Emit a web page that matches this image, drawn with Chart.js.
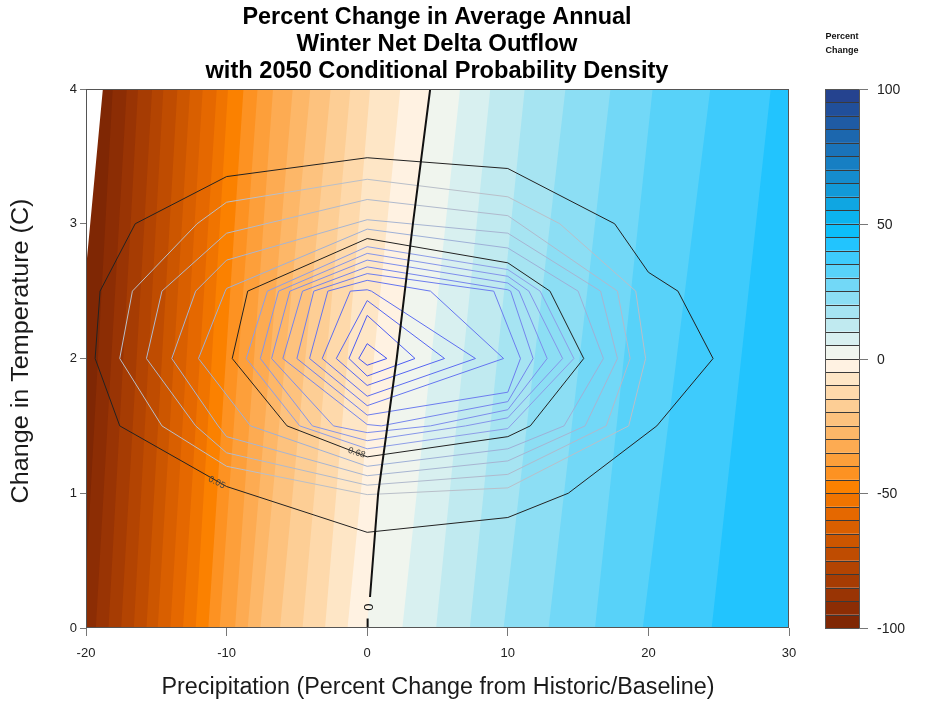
<!DOCTYPE html>
<html>
<head>
<meta charset="utf-8">
<script src="https://cdn.jsdelivr.net/npm/chart.js@4.4.1/dist/chart.umd.min.js"></script>
<style>
  html, body { margin: 0; padding: 0; background: #ffffff; }
  #wrap { width: 929px; height: 706px; position: relative; }
</style>
</head>
<body>
<div id="wrap"><canvas id="c" width="929" height="706"></canvas></div>
<script>
// ---- axes ----
const xTickValues = [-20, -10, 0, 10, 20, 30];
const yTickValues = [0, 1, 2, 3, 4];
const keyTickValues = [100, 50, 0, -50, -100];

// ---- percent change surface: each isoline is given by where it crosses T = 0 and T = 4 ----
const cutLevels = [-100, -95, -90, -85, -80, -75, -70, -65, -60, -55, -50, -45, -40, -35, -30, -25, -20, -15, -10, -5, 0, 5, 10, 15, 20, 25, 30, 35, 40];
const cutPAtT0  = [-22.4, -20.2, -19.3, -18.4, -17.5, -16.6, -15.7, -14.9, -14.0, -13.1, -12.2, -11.3, -10.5, -9.4, -8.5, -7.6, -6.2, -4.6, -3.0, -1.4, 0, 2.5, 4.9, 7.3, 9.7, 12.9, 16.2, 19.6, 24.5];
const cutPAtT4  = [-18.8, -18.1, -17.1, -16.3, -15.3, -14.5, -13.5, -12.6, -11.7, -10.7, -9.9, -8.8, -7.8, -6.7, -5.3, -4.05, -2.6, -1.2, 0.2, 2.35, 4.48, 6.6, 8.75, 11.2, 14.1, 17.3, 20.3, 24.4, 28.7];

// zero isoline (drawn heavy, with a break for its label)
const zeroLineP = [0, 0.03, null, 0.2, 0.78, 2.1, 3.25, 4.48];
const zeroLineT = [0, 0.07, null, 0.23, 1, 2, 3, 4];

// ---- colour key: band lower edges and fills ----
const keyLevels = [-100, -95, -90, -85, -80, -75, -70, -65, -60, -55, -50, -45, -40, -35, -30, -25, -20, -15, -10, -5,
                   0, 5, 10, 15, 20, 25, 30, 35, 40, 45, 50, 55, 60, 65, 70, 75, 80, 85, 90, 95];
const keyColors = ['#7f2704', '#8c2d04', '#993404', '#a63c03', '#b34402', '#bf4c01', '#cc5600', '#d95f00', '#e56800', '#f07400',
                   '#fb8100', '#fd9222', '#fd9f3a', '#fdab52', '#fdb768', '#fdc27e', '#fdce95', '#fed9ab', '#fee6c6', '#fff2e2',
                   '#f0f5ee', '#d8f0f0', '#c0eaf0', '#a6e4f2', '#8cdef4', '#72d8f7', '#58d2f9', '#3ecbfc', '#22c4fe', '#0dbef9',
                   '#0cb3ee', '#0fa6e2', '#1299d7', '#158ccd', '#177fc3', '#1a73b9', '#1c67ae', '#1f5ba4', '#214f9a', '#25438f'];

// ---- 2050 conditional probability density contours, outermost first: [precip %, temp C] ----
const densityOuter = [[-19.35, 2.0], [-19.0, 2.5], [-16.5, 3.0], [-10, 3.35], [0, 3.49], [10, 3.41], [17.6, 3.0], [20, 2.64], [22.1, 2.5], [24.6, 2.0],
                      [20.6, 1.5], [14.3, 1.0], [10, 0.82], [0, 0.71], [-10, 1.05], [-17.6, 1.5], [-19.35, 2.0]];
const densityG1 = [[-17.6, 2.0], [-16.7, 2.5], [-12.1, 3.0], [-10, 3.16], [0, 3.33], [10, 3.2], [13.7, 3.0], [19.1, 2.5], [19.8, 2.0], [18.6, 1.5],
                   [10, 1.04], [0, 0.99], [-10, 1.2], [-14.6, 1.5], [-17.6, 2.0]];
const densityG2 = [[-15.7, 2.0], [-14.6, 2.5], [-10, 2.93], [0, 3.18], [10, 3.06], [17.8, 2.5], [18.7, 2.0], [17.0, 1.5],
                   [10, 1.14], [0, 1.06], [-10, 1.3], [-12.2, 1.5], [-15.7, 2.0]];
const densityG3 = [[-13.9, 2.0], [-12.2, 2.5], [-10, 2.73], [0, 3.03], [10, 2.93], [16.6, 2.5], [17.8, 2.0], [15.5, 1.5],
                   [10, 1.24], [0, 1.13], [-10, 1.42], [-10.6, 1.5], [-13.9, 2.0]];
const densityG4 = [[-12.0, 2.0], [-10.1, 2.5], [-10, 2.52], [0, 2.96], [10, 2.82], [15.0, 2.5], [16.8, 2.0], [14.0, 1.5],
                   [10, 1.33], [0, 1.2], [-8.3, 1.5], [-12.0, 2.0]];
const densityInner = [[-9.6, 2.0], [-8.5, 2.5], [0, 2.89], [10, 2.71], [13.0, 2.5], [15.4, 2.0], [11.6, 1.5], [10, 1.42], [0, 1.27], [-5.7, 1.5], [-9.6, 2.0]];
const densityB1 = [[-8.6, 2.0], [-7.1, 2.5], [0, 2.83], [10, 2.66], [12.3, 2.5], [14.7, 2.0], [10, 1.48], [0, 1.33], [-4.8, 1.5], [-8.6, 2.0]];
const densityB2 = [[-7.6, 2.0], [-6.3, 2.5], [0, 2.78], [10, 2.61], [11.5, 2.5], [13.9, 2.0], [10, 1.56], [7.0, 1.5], [0, 1.39], [-3.9, 1.5], [-7.6, 2.0]];
const densityB3 = [[-6.8, 2.0], [-5.5, 2.5], [0, 2.73], [10, 2.56], [10.8, 2.5], [12.8, 2.0], [10, 1.62], [4.5, 1.5], [0, 1.45], [-2.4, 1.5], [-6.8, 2.0]];
const densityB4 = [[-6.0, 2.0], [-4.6, 2.5], [0, 2.68], [10, 2.51], [10.2, 2.5], [11.8, 2.0], [10, 1.68], [1.0, 1.5], [0, 1.51], [-6.0, 2.0]];
const densityB5 = [[-5.0, 2.0], [-3.8, 2.5], [0, 2.63], [9.0, 2.5], [10.9, 2.0], [10, 1.75], [0, 1.58], [-5.0, 2.0]];
const densityB6 = [[-4.1, 2.0], [-2.8, 2.5], [0, 2.58], [4.5, 2.5], [9.7, 2.0], [0, 1.65], [-4.1, 2.0]];
const densityB7 = [[-3.2, 2.0], [-1.2, 2.5], [0, 2.51], [0.3, 2.5], [7.7, 2.0], [0, 1.72], [-3.2, 2.0]];
const densityB8 = [[-2.2, 2.0], [0, 2.43], [5.5, 2.0], [0, 1.80], [-2.2, 2.0]];
const densityB9 = [[-1.3, 2.0], [0, 2.32], [3.4, 2.0], [0, 1.87], [-1.3, 2.0]];
const densityB10 = [[-0.6, 2.0], [0, 2.11], [1.4, 2.0], [0, 1.95], [-0.6, 2.0]];

const densityLines = [densityOuter, densityG1, densityG2, densityG3, densityG4, densityInner,
                      densityB1, densityB2, densityB3, densityB4, densityB5, densityB6, densityB7, densityB8, densityB9, densityB10];
const densityColors = ['#222222', '#b9bfc9', '#b0bacd', '#a7b5d2', '#9eb0d7', '#222222',
                       '#8d9de8', '#8595ea', '#7d8dec', '#7585ed', '#6d7def', '#6575f0', '#5d6df1', '#5565f2', '#4d5df3', '#4555f4'];

// labelled density levels: text, position, angle (deg)
const densityLabels = [
  { text: '0.05', p: -10.7, t: 1.08, angle: 27 },
  { text: '0.68', p: -0.75, t: 1.30, angle: 18 }
];

// ---------------------------------------------------------------
const datasets = [];
const xMax = 30, yMax = 4, yMin = 0;

cutLevels.forEach((lev, i) => {
  let edge;
  if (lev === 0) {
    edge = zeroLineP.map((p, k) => ({ x: p, y: zeroLineT[k] })).filter(pt => pt.x !== null);
  } else {
    edge = [{ x: cutPAtT0[i], y: yMin }, { x: cutPAtT4[i], y: yMax }];
  }
  const poly = edge.concat([{ x: xMax + 2, y: yMax + 0.2 }, { x: xMax + 2, y: yMin - 0.2 }]);
  const k = keyLevels.indexOf(lev);
  datasets.push({
    data: poly,
    backgroundColor: keyColors[k],
    borderWidth: 0,
    borderColor: 'rgba(0,0,0,0)',
    pointRadius: 0,
    fill: 'shape',
    tension: 0,
    order: 1000 - i
  });
});

densityLines.forEach((line, i) => {
  datasets.push({
    data: line.map(([p, t]) => ({ x: p, y: t })),
    borderColor: densityColors[i],
    borderWidth: 1,
    pointRadius: 0,
    fill: false,
    tension: 0,
    order: 50 - i
  });
});

datasets.push({
  data: zeroLineP.map((p, k) => ({ x: p === null ? 0.1 : p, y: zeroLineT[k] })),
  borderColor: '#111111',
  borderWidth: 2,
  pointRadius: 0,
  fill: false,
  tension: 0,
  spanGaps: false,
  order: 0
});

// text squeezed or stretched horizontally to a set width
function fitText(ctx, text, x, y, width, angle) {
  const w = ctx.measureText(text).width;
  ctx.save();
  ctx.translate(x, y);
  if (angle) ctx.rotate(angle);
  ctx.scale(width / w, 1);
  ctx.fillText(text, 0, 0);
  ctx.restore();
}

const overlay = {
  id: 'overlay',
  beforeDraw(chart) {
    const ctx = chart.ctx;
    ctx.save();
    ctx.fillStyle = '#ffffff';
    ctx.fillRect(0, 0, chart.width, chart.height);
    ctx.restore();
  },
  afterDatasetsDraw(chart) {
    const { ctx, chartArea: a, scales } = chart;
    const xs = scales.x, ys = scales.y, ks = scales.key;
    ctx.save();
    // plot frame
    ctx.strokeStyle = '#555555';
    ctx.lineWidth = 1;
    ctx.strokeRect(a.left + 0.5, a.top + 0.5, a.right - a.left - 1, a.bottom - a.top - 1);

    // zero label
    const zx = xs.getPixelForValue(0.07), zy = ys.getPixelForValue(0.155);
    ctx.save();
    ctx.translate(zx, zy);
    ctx.rotate(-Math.PI / 2);
    ctx.fillStyle = '#111111';
    ctx.font = '13px "Liberation Sans", Arial, sans-serif';
    ctx.textAlign = 'center';
    ctx.textBaseline = 'middle';
    ctx.fillText('0', 0, 1);
    ctx.restore();

    // density labels
    densityLabels.forEach(l => {
      ctx.save();
      ctx.translate(xs.getPixelForValue(l.p), ys.getPixelForValue(l.t));
      ctx.rotate(l.angle * Math.PI / 180);
      ctx.font = '9px "Liberation Sans", Arial, sans-serif';
      ctx.textAlign = 'center';
      ctx.textBaseline = 'middle';
      ctx.fillStyle = '#444444';
      ctx.fillText(l.text, 0, 0);
      ctx.restore();
    });

    // colour key
    const kl = 825, kr = 859;
    keyLevels.forEach((lev, i) => {
      const yTop = ks.getPixelForValue(lev + 5), yBot = ks.getPixelForValue(lev);
      ctx.fillStyle = keyColors[i];
      ctx.fillRect(kl, yTop, kr - kl, yBot - yTop);
    });
    ctx.strokeStyle = '#3a3a3a';
    ctx.lineWidth = 1;
    keyLevels.forEach((lev) => {
      const y = Math.round(ks.getPixelForValue(lev)) + 0.5;
      ctx.beginPath(); ctx.moveTo(kl, y); ctx.lineTo(kr, y); ctx.stroke();
    });
    ctx.strokeStyle = '#555555';
    const kTop = ks.getPixelForValue(100), kBot = ks.getPixelForValue(-100);
    ctx.strokeRect(kl + 0.5, Math.round(kTop) + 0.5, kr - kl, Math.round(kBot - kTop));
    ctx.strokeStyle = '#777777';
    ctx.fillStyle = '#222222';
    ctx.font = '14px "Liberation Sans Narrow", "Liberation Sans", Arial, sans-serif';
    ctx.textAlign = 'left';
    ctx.textBaseline = 'middle';
    keyTickValues.forEach(v => {
      const y = Math.round(ks.getPixelForValue(v)) + 0.5;
      ctx.beginPath(); ctx.moveTo(kr, y); ctx.lineTo(kr + 9, y); ctx.stroke();
      ctx.fillText(String(v), kr + 18, y + 1, v < 0 ? 29 : 27);
    });
    ctx.font = 'bold 9px "Liberation Sans", Arial, sans-serif';
    ctx.textAlign = 'center';
    ctx.fillStyle = '#111111';
    ctx.fillText('Percent', 842, 37);
    ctx.fillText('Change', 842, 51);

    // titles
    ctx.fillStyle = '#000000';
    ctx.font = 'bold 23px "Liberation Sans", Arial, sans-serif';
    ctx.textAlign = 'center';
    ctx.textBaseline = 'middle';
    fitText(ctx, 'Percent Change in Average Annual', 437, 18, 389);
    fitText(ctx, 'Winter Net Delta Outflow', 437, 45, 281);
    fitText(ctx, 'with 2050 Conditional Probability Density', 437, 72, 463);

    ctx.fillStyle = '#1a1a1a';
    ctx.font = '23px "Liberation Sans", Arial, sans-serif';
    fitText(ctx, 'Precipitation (Percent Change from Historic/Baseline)', 438, 688, 553);
    fitText(ctx, 'Change in Temperature (C)', 22, 351, 305, -Math.PI / 2);
    ctx.restore();
  }
};

new Chart(document.getElementById('c'), {
  type: 'line',
  data: { datasets },
  options: {
    responsive: false,
    devicePixelRatio: 1,
    animation: false,
    events: [],
    layout: { padding: { top: 89, right: 140, bottom: 0, left: 0 } },
    plugins: { legend: { display: false }, tooltip: { enabled: false }, title: { display: false },
               filler: { propagate: false } },
    elements: { line: { borderJoinStyle: 'miter' } },
    scales: {
      x: {
        type: 'linear', min: -20, max: 30,
        afterFit: s => { s.height = 78; },
        afterBuildTicks: s => { s.ticks = xTickValues.map(v => ({ value: v })); },
        grid: { drawOnChartArea: false, tickLength: 8, color: '#777777', tickColor: '#777777' },
        border: { display: false },
        ticks: { padding: 10, color: '#222222', font: { family: '"Liberation Sans Narrow", "Liberation Sans", Arial, sans-serif', size: 13 } }
      },
      y: {
        type: 'linear', min: 0, max: 4,
        afterFit: s => { s.width = 86; },
        afterBuildTicks: s => { s.ticks = yTickValues.map(v => ({ value: v })); },
        grid: { drawOnChartArea: false, tickLength: 6, color: '#777777', tickColor: '#777777' },
        border: { display: false },
        ticks: { padding: 3, color: '#222222', font: { family: '"Liberation Sans Narrow", "Liberation Sans", Arial, sans-serif', size: 13 } }
      },
      key: {
        type: 'linear', position: 'right', min: -100, max: 100, display: false
      }
    }
  },
  plugins: [overlay]
});
</script>
</body>
</html>
